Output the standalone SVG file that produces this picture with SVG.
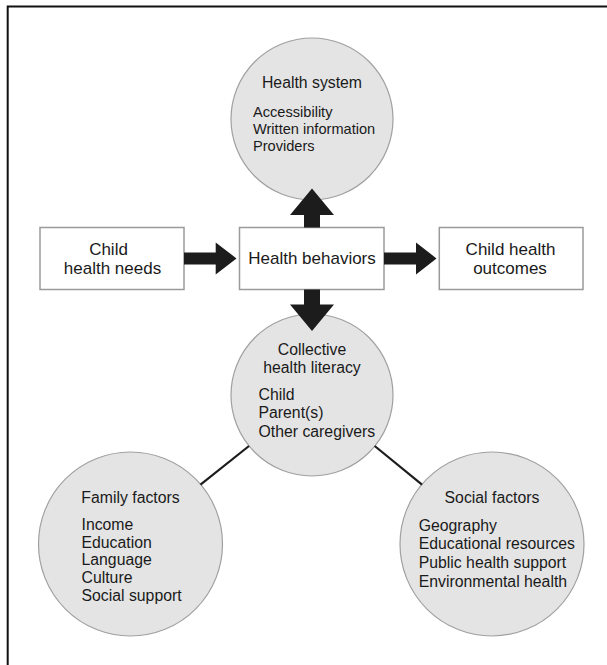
<svg xmlns="http://www.w3.org/2000/svg" width="607" height="665" viewBox="0 0 607 665">
<style>
  .box { fill: #ffffff; stroke: #9a9a9a; stroke-width: 1.5; }
  .circ { fill: #e4e4e4; stroke: #a0a0a0; stroke-width: 1.2; }
  .arrow { fill: #1c1c1c; }
  .link { stroke: #1c1c1c; stroke-width: 2.2; fill: none; }
  text { font-family: "Liberation Sans", Arial, Helvetica, sans-serif; fill: #1a1a1a; }
  .bt { font-size: 17px; text-anchor: middle; }
  .ct { font-size: 15.8px; }
  .mid { text-anchor: middle; }
  .hs { font-size: 14.6px; }
</style>
<rect x="0" y="0" width="607" height="665" fill="#ffffff"/>
<path d="M7.7,666 V6.5 H608" fill="none" stroke="#111111" stroke-width="2"/>

<g id="health-system">
  <circle class="circ" cx="312" cy="119" r="81"/>
  <text class="ct mid" x="312" y="88">Health system</text>
  <text class="hs" x="253" y="117">Accessibility</text>
  <text class="hs" x="253" y="133.8">Written information</text>
  <text class="hs" x="253" y="150.6">Providers</text>
</g>

<g id="child-health-needs">
  <rect class="box" x="40" y="227.5" width="144" height="62"/>
  <text class="bt" x="108.5" y="254.5">Child</text>
  <text class="bt" x="112.5" y="273.5">health needs</text>
</g>

<g id="health-behaviors">
  <rect class="box" x="239.5" y="227.5" width="144.5" height="62"/>
  <text class="bt" x="312" y="263.5">Health behaviors</text>
</g>

<g id="child-health-outcomes">
  <rect class="box" x="439.3" y="227.5" width="143.7" height="62"/>
  <text class="bt" x="510.5" y="254.5">Child health</text>
  <text class="bt" x="510" y="273.5">outcomes</text>
</g>

<g id="collective-health-literacy">
  <circle class="circ" cx="312" cy="395" r="81"/>
  <text class="ct mid" x="312" y="355">Collective</text>
  <text class="ct mid" x="312" y="372.5">health literacy</text>
  <text class="ct" x="258.5" y="400">Child</text>
  <text class="ct" x="258.5" y="418.3">Parent(s)</text>
  <text class="ct" x="258.5" y="436.7">Other caregivers</text>
</g>

<g id="family-factors">
  <circle class="circ" cx="130.5" cy="544" r="92"/>
  <text class="ct mid" x="130.5" y="503">Family factors</text>
  <text class="ct" x="81.5" y="530">Income</text>
  <text class="ct" x="81.5" y="547.8">Education</text>
  <text class="ct" x="81.5" y="565.3">Language</text>
  <text class="ct" x="81.5" y="582.8">Culture</text>
  <text class="ct" x="81.5" y="600.5">Social support</text>
</g>

<g id="social-factors">
  <circle class="circ" cx="492" cy="544" r="92"/>
  <text class="ct mid" x="492" y="502.5">Social factors</text>
  <text class="ct" x="418.7" y="530.5">Geography</text>
  <text class="ct" x="418.7" y="549">Educational resources</text>
  <text class="ct" x="418.7" y="568.2">Public health support</text>
  <text class="ct" x="418.7" y="587">Environmental health</text>
</g>

<g id="connectors">
  <line class="link" x1="200.5" y1="484.7" x2="249" y2="446"/>
  <line class="link" x1="374.7" y1="446" x2="422" y2="484.7"/>
  <polygon class="arrow" points="184,252.4 215.7,252.4 215.7,242.4 236.5,258.4 215.7,274.4 215.7,264.4 184,264.4"/>
  <polygon class="arrow" points="384,252.4 416,252.4 416,242.4 436.5,258.4 416,274.4 416,264.4 384,264.4"/>
  <polygon class="arrow" points="304,227.5 304,215 290,215 312,188.5 334,215 320,215 320,227.5"/>
  <polygon class="arrow" points="304,289.5 304,304.5 290,304.5 312,331 334,304.5 320,304.5 320,289.5"/>
</g>
</svg>
